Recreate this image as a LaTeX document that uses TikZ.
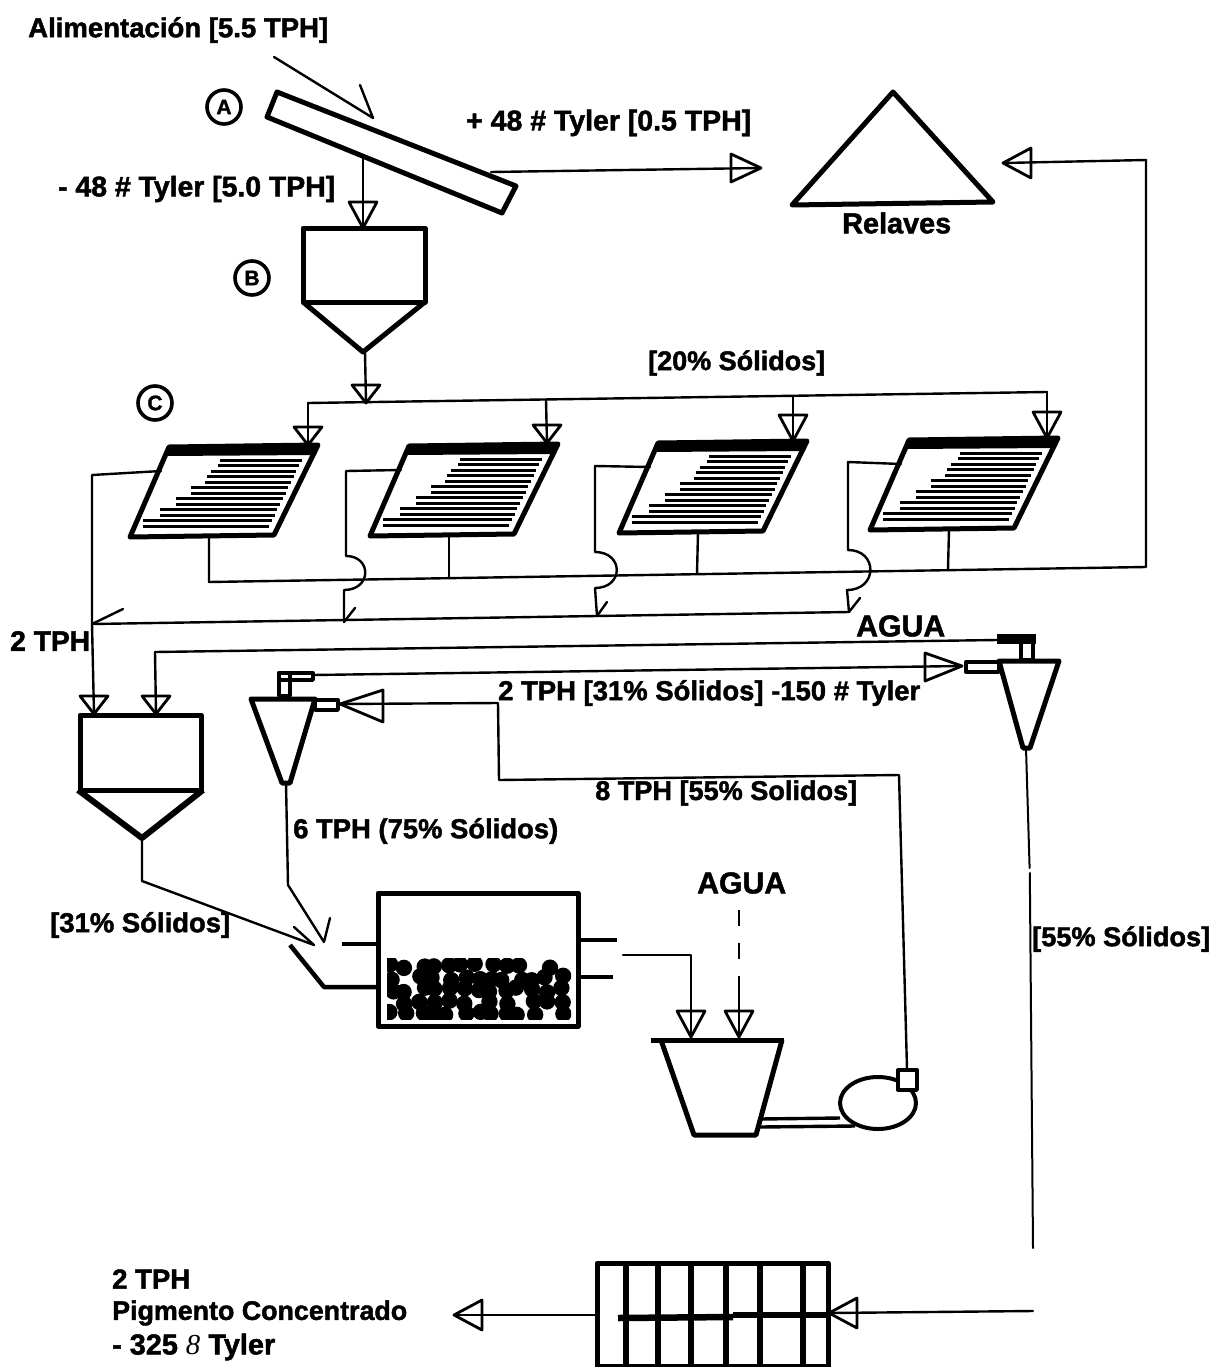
\documentclass[tikz,border=0pt]{standalone}
\usepackage{fontspec}
\setmainfont{Liberation Sans}[BoldFeatures={FakeBold=1.6}]
\newfontfamily\serifeight{Liberation Serif}
\usetikzlibrary{calc}
\newcommand{\lab}[5]{\node[anchor=west,inner sep=0pt,yshift=-1pt,font=\fontsize{24}{26}\selectfont\bfseries] (#1) at (#2,#3) {\resizebox{#4pt}{!}{#5}};}
\tikzset{
  x=1pt,y=-1pt,
  conn/.style={line width=2.4pt,line join=round,line cap=round},
  thin conn/.style={line width=2pt,line cap=round},
  heavy/.style={line width=5pt,line join=round},
  medium/.style={line width=3.4pt,line join=round},
  headline/.style={line width=2.8pt,line join=round},
  tag/.style={circle,draw,line width=3.6pt,inner sep=0pt,minimum size=34pt,font=\fontsize{21}{23}\selectfont\bfseries},
  headd/.pic={\draw[headline] (0,0)--(-14,-26)--(14,-26)--cycle;},
  headds/.pic={\draw[headline] (0,0)--(-14,-18)--(14,-18)--cycle;},
  headl/.pic={\draw[headline] (0,0)--(28,-15)--(28,15)--cycle;},
  headr/.pic={\draw[headline] (0,0)--(-30,-14)--(-30,14)--cycle;},
  panel/.pic={
    \draw[heavy] (0,0)--(149,-2)--(105,88)--(-39,90)--cycle;
    \fill (0,0)--(149,-2)--(145,8)--(-4,9)--cycle;
    \foreach \k/\l in {0/51,1/49,2/42,3/38,4/36,5/22,6/22,7/7,8/7,9/-9,10/-9,11/-26,12/-26}{
      \pgfmathsetmacro{\yy}{13+\k*5.5}
      \pgfmathsetmacro{\rr}{139-0.489*\yy}
      \draw[line width=3pt] (\l,\yy)--(\rr,\yy);
    }
    \coordinate (-in) at (139,0);
    \coordinate (-left) at (-8,24);
    \coordinate (-bot) at (40,89);
  }
}
\begin{document}
\begin{tikzpicture}
\path[use as bounding box,fill=white] (0,0) rectangle (1212,1367);

% ---------- labels
\lab{tfeed}{28}{29}{300}{Alimentación [5.5 TPH]}
\lab{tover}{466}{122}{285}{+ 48 \# Tyler [0.5 TPH]}
\lab{tunder}{58}{188}{277}{- 48 \# Tyler [5.0 TPH]}
\lab{trel}{842}{222}{109}{Relaves}
\lab{tsol}{648}{362}{177}{[20\% Sólidos]}
\lab{ttwo}{10}{640}{80}{2 TPH}
\lab{tagua}{856}{625}{89}{AGUA}
\lab{tfine}{498}{692}{422}{2 TPH [31\% Sólidos] -150 \# Tyler}
\lab{teight}{595}{792}{262}{8 TPH [55\% Solidos]}
\lab{tsix}{293}{830}{265}{6 TPH (75\% Sólidos)}
\lab{tagua2}{697}{882}{89}{AGUA}
\lab{tthree}{50}{924}{180}{[31\% Sólidos]}
\lab{tfive}{1032}{938}{178}{[55\% Sólidos]}
\lab{tp1}{112}{1278}{78}{2 TPH}
\lab{tp2}{112}{1312}{295}{Pigmento Concentrado}
\lab{tp3}{112}{1346}{163}{- 325 {\serifeight\mdseries\itshape 8} Tyler}

\node[tag] (cA) at (224,107) {A};
\node[tag] (cB) at (252,278) {B};
\node[tag] (cC) at (155,403) {C};

% ---------- screen A
\draw[heavy] (277,92)--(516,186)--(502,213)--(267,117)--cycle;
\coordinate (fa) at (274,57); \coordinate (fb) at (373,118); \coordinate (fc) at (360,85);
\draw[conn] (fa)--(fb)--(fc);
\coordinate (scrD) at (363,155);
\coordinate (scrR) at (491,172);

% ---------- hopper B
\draw[heavy] (303,228) rectangle (425,302);
\draw[heavy] (303,302)--(363,352)--(425,302);
\coordinate (bIn) at (363,228); \coordinate (bOut) at (365,352);
\draw[conn] (scrD)--(bIn); \pic at (bIn) {headd};

% ---------- relaves
\draw[heavy] (893,92)--(993,202)--(792,205)--cycle;
\coordinate (relIn1) at (761,168);
\coordinate (relIn2) at (1003,163);
\draw[conn] (scrR)--(relIn1); \pic at (relIn1) {headr};

% ---------- header to the four panels
\coordinate (hTop) at (366,403);
\draw[conn] (bOut)--(hTop); \pic at (hTop) {headds};
\coordinate (h0) at (308,403); \coordinate (h1) at (546,400); \coordinate (h2) at (793,397); \coordinate (h3) at (1047,392);
\draw[conn] (h0)--(h3);
\pic (p1) at (169,447) {panel};
\pic (p2) at (409,446) {panel};
\pic (p3) at (658,443) {panel};
\pic (p4) at (909,440) {panel};
\coordinate (d0) at (308,445); \coordinate (d1) at (547,443); \coordinate (d2) at (793,441); \coordinate (d3) at (1047,438);
\draw[conn] (h0)--(d0); \pic at (d0) {headds};
\draw[conn] (h1)--(d1); \pic at (d1) {headds};
\draw[conn] (h2)--(d2); \pic at (d2) {headd};
\draw[conn] (h3)--(d3); \pic at (d3) {headd};

% ---------- underflow of the panels to relaves
\coordinate (c0) at (209,582); \coordinate (c1) at (449,578); \coordinate (c2) at (697,574); \coordinate (c3) at (948,569); \coordinate (c4) at (1146,567); \coordinate (c5) at (1146,160);
\draw[conn] (p1-bot)--(c0)--(c4)--(c5)--(relIn2);
\pic at (relIn2) {headl};
\draw[conn] (p2-bot)--(c1);
\draw[conn] (p3-bot)--(c2);
\draw[conn] (p4-bot)--(c3);

% ---------- overflow collector
\coordinate (L1a) at (346,471); \coordinate (L1b) at (346,556); \coordinate (L1c) at (344,590); \coordinate (L1d) at (344,622);
\coordinate (L2a) at (595,466); \coordinate (L2b) at (595,552); \coordinate (L2c) at (595,588); \coordinate (L2d) at (597,616);
\coordinate (L3a) at (848,462); \coordinate (L3b) at (848,550); \coordinate (L3c) at (847,590); \coordinate (L3d) at (849,612);
\coordinate (L0a) at (92,475); \coordinate (L0b) at (92,624); \coordinate (mIn1) at (94,714);
\draw[conn] (p1-left)--(L0a)--(L0b)--(mIn1); \pic at (mIn1) {headds};
\draw[conn] (L0b)--(L3d);
\draw[conn] (p2-left)--(L1a)--(L1b) .. controls (372,556) and (372,590) .. (L1c)--(L1d);
\draw[conn] (p3-left)--(L2a)--(L2b) .. controls (624,552) and (624,588) .. (L2c)--(L2d);
\draw[conn] (p4-left)--(L3a)--(L3b) .. controls (878,550) and (878,590) .. (L3c)--(L3d);
\coordinate (b0) at (123,609); \coordinate (b1) at (355,608); \coordinate (b2) at (607,602); \coordinate (b3) at (860,598);
\draw[conn] (b0)--(L0b); \draw[conn] (b1)--(L1d); \draw[conn] (b2)--(L2d); \draw[conn] (b3)--(L3d);

% ---------- hopper 2
\draw[heavy] (80,715) rectangle (201,790);
\draw[line width=6pt,line join=round] (78,790)--(142,838)--(203,790);
\coordinate (mIn2) at (156,714); \coordinate (mOut) at (142,838);
\coordinate (agA) at (155,652);

% ---------- right cyclone
\draw[heavy] (999,661)--(1059,661)--(1030,748)--(1023,748)--cycle;
\draw[medium,fill=white] (966,662) rectangle (999,672);
\draw[medium] (1021,638) rectangle (1033,660);
\fill (997,634) rectangle (1036,644);
\coordinate (rVort) at (997,640); \coordinate (rIn) at (962,666); \coordinate (rOut) at (1026,748); \coordinate (fEnd) at (1033,1248);
\draw[conn] (agA)--(rVort);
\draw[conn] (agA)--(mIn2); \pic at (mIn2) {headds};
\draw[thin conn] (rOut)--(1029.6,868); \draw[thin conn] (1029.8,873)--(fEnd);

% ---------- left cyclone
\draw[heavy] (251,699)--(315,699)--(290,783)--(282,783)--cycle;
\draw[medium,fill=white] (315,700) rectangle (338,710);
\draw[medium] (279,673) rectangle (313,680);
\draw[medium] (279,673) rectangle (290,696);
\coordinate (lVort) at (313,675); \coordinate (lIn) at (340,704); \coordinate (lOut) at (286,783);
\draw[conn] (lVort)--(rIn);
\draw[headline] (rIn)--(925,653)--(925,681)--cycle;
\draw[headline] (lIn)--(383,690)--(383,722)--cycle;
\coordinate (jn) at (498,703);
\coordinate (je) at (499,780); \coordinate (jf) at (899,775); \coordinate (pumpOut) at (907,1069);
\draw[conn] (lIn)--(jn)--(je)--(jf)--(pumpOut);

% ---------- feed to the mill
\coordinate (k1) at (142,881); \coordinate (k2) at (314,945); \coordinate (k3) at (294,927);
\coordinate (k4) at (288,885); \coordinate (k5) at (324,942); \coordinate (k6) at (330,918);
\draw[conn] (mOut)--(k1)--(k2)--(k3);
\draw[conn] (lOut)--(k4)--(k5)--(k6);

% ---------- mill
\draw[heavy] (378,893) rectangle (578,1026);
\begin{scope}
  \clip (387,958) rectangle (571,1019);
  \pgfmathsetseed{7}
  \foreach \row in {966,978,990,1002,1014}{
    \foreach \col in {393,407,...,570}{
      \pgfmathsetmacro{\skipv}{rnd}
      \pgfmathsetmacro{\jx}{\col+8*rnd-4}
      \pgfmathsetmacro{\jy}{\row+5*rnd-2.5}
      \pgfmathparse{\skipv<0.88?1:0}
      \ifnum\pgfmathresult=1
        \fill (\jx,\jy) circle[radius=8.2];
      \fi
    }
  }
\end{scope}
\coordinate (s1a) at (342,944); \coordinate (s1b) at (378,944);
\coordinate (s2a) at (290,945); \coordinate (s2b) at (324,987); \coordinate (s2c) at (378,987);
\coordinate (s3a) at (578,940); \coordinate (s3b) at (617,940);
\coordinate (s4a) at (578,977); \coordinate (s4b) at (613,977);
\draw[medium] (s1a)--(s1b);
\draw[line width=4.5pt,line join=round] (s2a)--(s2b)--(s2c);
\draw[medium] (s3a)--(s3b);
\draw[medium] (s4a)--(s4b);

% ---------- sump and pump
\draw[heavy] (651,1040)--(784,1040);
\draw[heavy] (661,1040)--(694,1135)--(756,1135)--(782,1040);
\coordinate (q1) at (623,955); \coordinate (q2) at (691,955); \coordinate (q3) at (691,1037);
\draw[conn] (q1)--(q2)--(q3); \pic at (q3) {headd};
\coordinate (w1) at (739,910); \coordinate (w2) at (739,977); \coordinate (w3) at (739,1037);
\draw[conn,line cap=butt,dash pattern=on 16pt off 17pt] (w1)--(w2);
\draw[conn] (w2)--(w3); \pic at (w3) {headd};
\draw[line width=4pt] (878,1103) ellipse[x radius=38,y radius=26];
\draw[medium,fill=white] (898,1070) rectangle (917,1090);
\draw[medium] (760,1119)--(840,1118);
\draw[medium] (760,1127)--(855,1126);

% ---------- filter
\draw[heavy] (597,1263) rectangle (828,1366);
\foreach \xx in {626,658,691,726,760,803}{\draw[line width=5.5pt] (\xx,1261)--(\xx,1366);}
\draw[line width=6.5pt] (618,1318)--(733,1317);
\draw[line width=6.5pt] (733,1315)--(828,1315);
\coordinate (fOut) at (454,1315); \coordinate (fIn) at (829,1313); \coordinate (fR) at (1033,1311);
\draw[conn] (fR)--(fIn); \pic at (fIn) {headl};
\draw[conn] (597,1315)--(fOut); \pic at (fOut) {headl};
\end{tikzpicture}
\end{document}
